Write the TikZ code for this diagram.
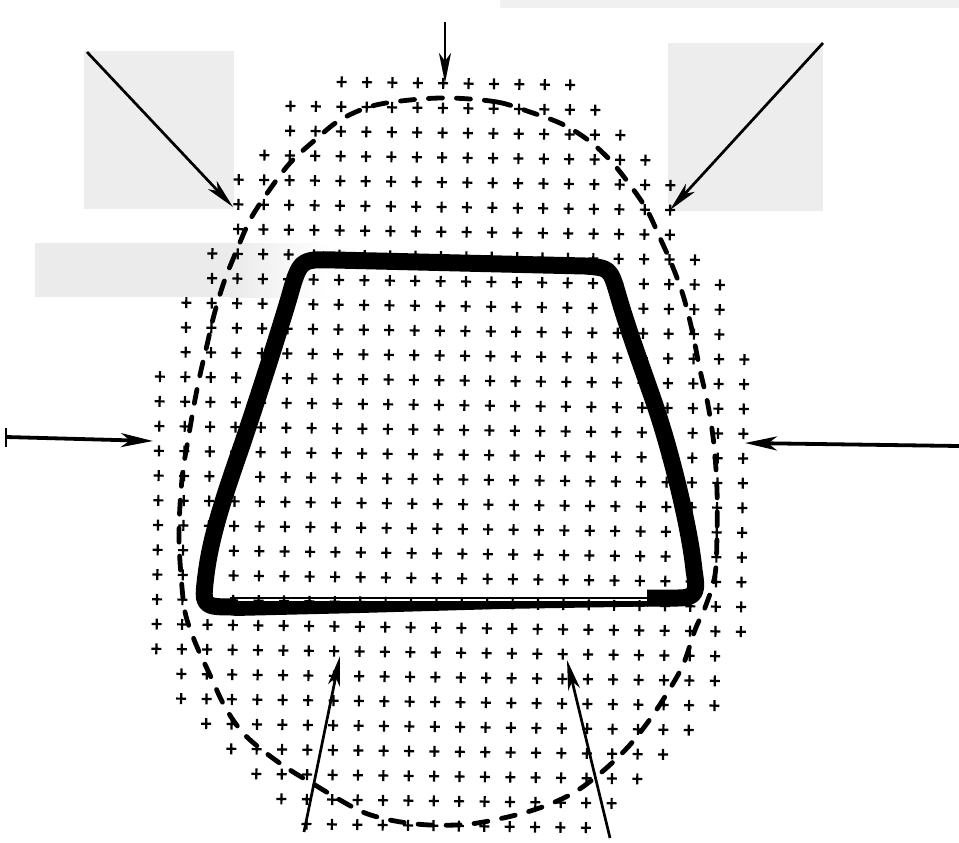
\documentclass[tikz,border=0pt]{standalone}
\usetikzlibrary{arrows.meta}
\begin{document}
\begin{tikzpicture}[x=1pt,y=-1pt,
  patch/.style={fill=black!7,draw=none},
  plusmark/.style={line width=2.2pt,black},
  outline/.style={line width=17pt,line join=round,black},
  boundary/.style={line width=4.8pt,line cap=round,dash pattern=on 14pt off 14pt,black},
  arr/.style={line width=2.7pt,-{Stealth[length=30pt,width=12pt,inset=8pt]}},
  arrthick/.style={line width=3.8pt,-{Stealth[length=32pt,width=14pt,inset=9pt]}}]
\useasboundingbox (0,0) rectangle (959,843);
\fill[white] (0,0) rectangle (959,843);
% scan patches
\fill[patch] (84,51) rectangle (234,209);
\fill[patch] (668,43) rectangle (823,211);
\fill[black!6] (500,0) rectangle (959,8);
\fill[black!8] (35,243) rectangle (230,297);
\shade[left color=black!8,right color=white] (230,243) rectangle (330,297);
% grid of plus marks
\begin{scope}[rotate around={-0.75:(450,450)}]
\foreach \j/\a/\b in {0/7/16,1/5/17,2/5/18,3/4/19,4/3/20,5/3/20,6/3/20,7/2/21,8/2/22,9/1/22,10/1/22,11/1/23,
  12/0/23,13/0/23,14/0/23,15/0/23,16/0/23,17/0/23,18/0/23,19/0/23,20/0/23,21/0/23,22/0/23,
  23/0/22,24/1/22,25/1/22,26/2/21,27/3/20,28/4/19,29/5/18,30/6/17}{
  \foreach \k in {\a,...,\b}{
    \pgfmathsetmacro{\px}{159+25.4*\k}
    \pgfmathsetmacro{\py}{83.4+24.75*\j}
    \draw[plusmark] (\px-5,\py) -- (\px+5,\py) (\px,\py-5.5) -- (\px,\py+5.5);
  }
}
\end{scope}
% thick trapezoid
\draw[outline] (647,598) -- (678,598) .. controls (698,598) and (697,590) .. (694,570)
  .. controls (690,530) and (672,455) .. (655,405)
  .. controls (643,370) and (628,330) .. (618,295)
  .. controls (610,268) .. (585,266)
  -- (335,260)
  .. controls (300,259) .. (289,298)
  .. controls (278,335) and (262,385) .. (248,427)
  .. controls (234,470) and (212,525) .. (206,575)
  .. controls (202,607) .. (236,607);
\fill (234,601) -- (648,601) -- (648,606.5) -- (500,609) -- (360,613) -- (234,616) -- cycle;
\draw[line width=1.4pt] (230,597.8) -- (648,597.8);
% dashed boundary
\draw[boundary] plot[smooth cycle,tension=0.55] coordinates {
 (450,98) (497,102) (530,112) (562,124) (588,140) (610,160) (630,185) (647,210) (660,238)
 (672,265) (683,295) (692,330) (700,370) (708,405) (714,445) (717,490) (717,535) (715,575)
 (706,605) (695,630) (683,665) (666,695) (648,722) (628,747) (603,771) (575,792) (545,806)
 (512,816) (470,824) (430,825) (395,821) (365,813) (340,800) (315,785) (290,770) (266,753)
 (243,733) (225,707) (210,675) (195,642) (185,612) (181,575) (179,540) (180,505) (183,470)
 (188,440) (194,405) (200,375) (207,345) (214,315) (224,282) (236,252) (250,220) (268,192)
 (290,163) (315,140) (340,120) (372,106) (410,100)};
% arrows
\coordinate (topS) at (445,22);   \coordinate (topE) at (445,83);
\coordinate (tlS) at (87,52);     \coordinate (tlE) at (233,207);
\coordinate (trS) at (823,43);    \coordinate (trE) at (670,210);
\coordinate (lS) at (6,437);      \coordinate (lE) at (153,441);
\coordinate (rS) at (959,446);    \coordinate (rE) at (745,443);
\coordinate (blS) at (304,832);   \coordinate (blE) at (340,656);
\coordinate (brS) at (610,838);   \coordinate (brE) at (567,660);
\draw[arr] (topS) -- (topE);
\draw[arr] (tlS) -- (tlE);
\draw[arr] (trS) -- (trE);
\draw[arrthick] (lS) -- (lE);
\draw[line width=2.5pt] (lS) ++(0,-9) -- ++(0,19);
\draw[arrthick] (rS) -- (rE);
\draw[arr] (blS) -- (blE);
\draw[arr] (brS) -- (brE);
\end{tikzpicture}
\end{document}
